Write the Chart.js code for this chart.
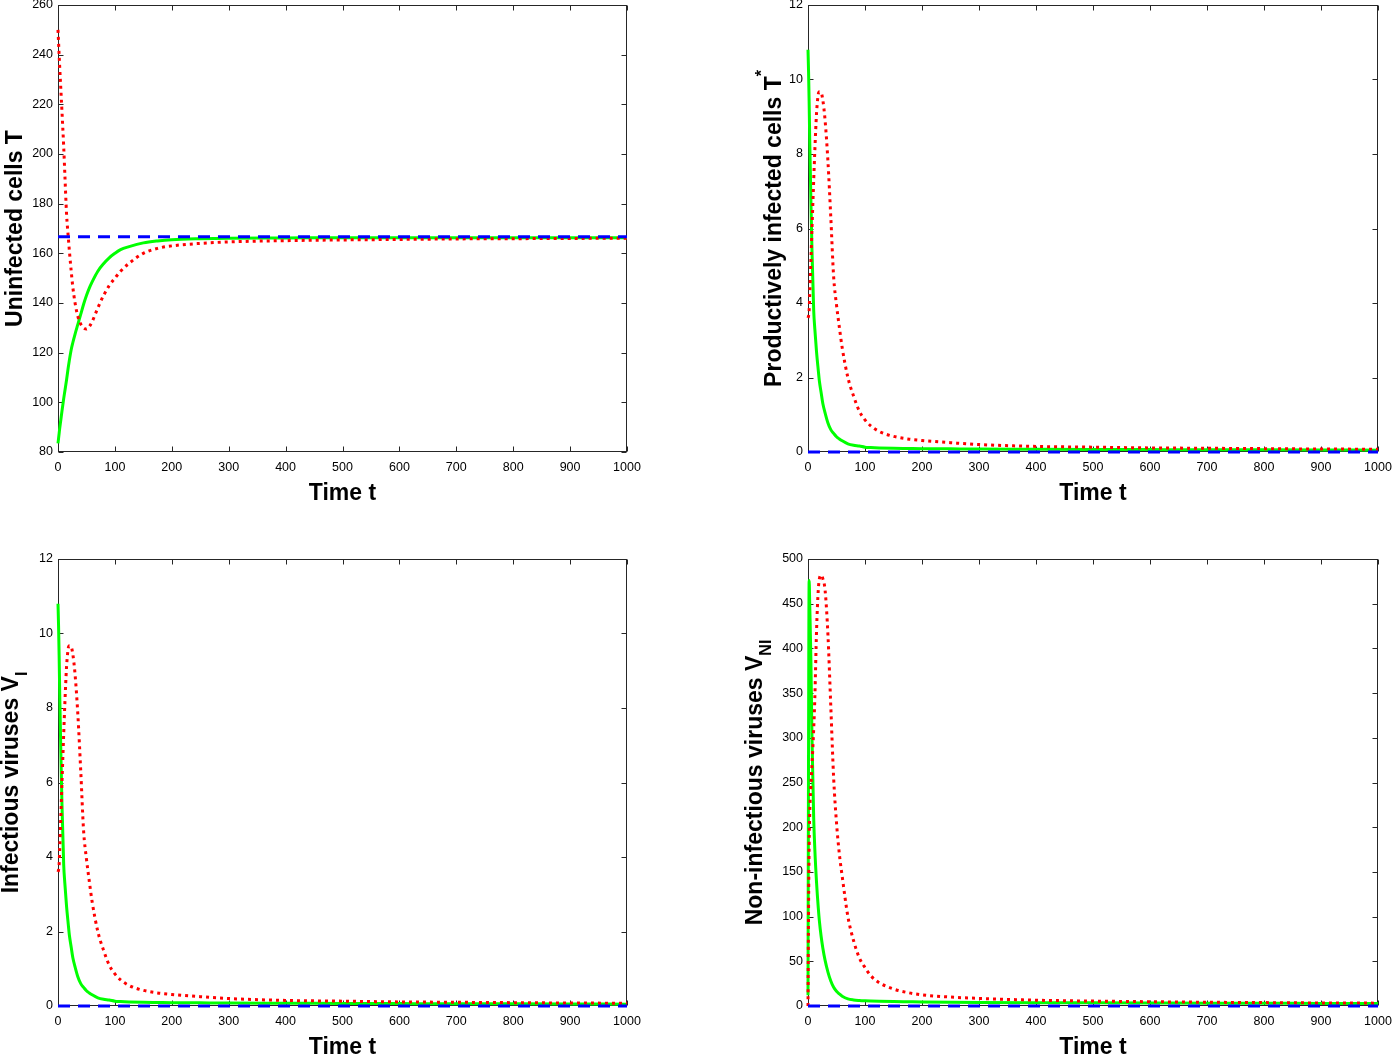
<!DOCTYPE html>
<html>
<head>
<meta charset="utf-8">
<script src="https://cdn.jsdelivr.net/npm/chart.js@4.4.1/dist/chart.umd.min.js"></script>
<style>
html,body{margin:0;padding:0;background:#fff;}
#wrap{position:relative;width:1392px;height:1054px;overflow:hidden;}
.panel{position:absolute;width:696px;height:527px;}
canvas{display:block;}
</style>
</head>
<body>
<div id="wrap">
  <div class="panel" style="left:0;top:0"><canvas id="cT" width="696" height="527"></canvas></div>
  <div class="panel" style="left:696px;top:0"><canvas id="cTs" width="696" height="527"></canvas></div>
  <div class="panel" style="left:0;top:527px"><canvas id="cVI" width="696" height="527"></canvas></div>
  <div class="panel" style="left:696px;top:527px"><canvas id="cVNI" width="696" height="527"></canvas></div>
</div>
<script>
// ---------------- data ----------------
const timePts = [0,1,2,3,5,7,10,12,15,18,20,23,26,30,35,40,45,50,55,60,70,80,90,100,110,125,150,175,200,250,300,400,500,600,700,800,900,1000];

// Uninfected cells T
const uninfGreen = [83.5,85.5,87.5,89.5,93,96.5,101.5,104.5,109,114,117,121,124,127.5,131.5,135.5,139.5,143,146,148.5,152.8,155.8,158.2,160,161.5,162.7,164.2,165,165.5,165.9,166.1,166.2,166.3,166.3,166.3,166.3,166.3,166.3];
const uninfRed   = [250,245,240,235,226,217,203,192,176,166.7,161,153.3,146.5,140,134.5,131.5,130,129.5,130.5,132.5,138,143,147,150,152.8,156,160,162,163,164,164.6,165.1,165.4,165.6,165.8,165.9,166,166.1];
const uninfEq    = [166.7,166.7];

// Productively infected cells T*
const infGreen = [10.8,10.2,9.4,8.4,6.8,5.4,3.8,3.3,2.68,2.2,1.9,1.6,1.3,1.05,0.78,0.6,0.5,0.41,0.35,0.3,0.22,0.18,0.16,0.13,0.12,0.11,0.1,0.095,0.09,0.085,0.08,0.075,0.07,0.065,0.06,0.058,0.055,0.05];
const infRed   = [3.6,3.65,3.8,4.2,5.1,6.0,7.3,8.1,9.1,9.6,9.67,9.65,9.45,8.9,7.8,6.3,4.7,3.95,3.35,2.8,2.0,1.5,1.1,0.86,0.7,0.55,0.42,0.35,0.31,0.25,0.2,0.15,0.13,0.11,0.1,0.09,0.08,0.075];
const infEq    = [0,0];

// Infectious viruses V_I
const viGreen = [10.8,10.2,9.4,8.4,6.8,5.4,3.8,3.3,2.68,2.2,1.9,1.6,1.3,1.05,0.78,0.6,0.5,0.41,0.35,0.3,0.22,0.18,0.16,0.13,0.12,0.11,0.1,0.095,0.09,0.085,0.08,0.075,0.07,0.065,0.06,0.058,0.055,0.05];
const viRed   = [3.6,3.65,3.8,4.2,5.1,6.0,7.3,8.1,9.1,9.6,9.67,9.65,9.45,8.9,7.8,6.3,4.7,3.95,3.35,2.8,2.0,1.5,1.1,0.86,0.7,0.55,0.42,0.35,0.31,0.25,0.2,0.15,0.13,0.11,0.1,0.09,0.08,0.075];
const viEq    = [0,0];

// Non-infectious viruses V_NI
const vniGreen = [12,300,476,450,390,300,210,175,138,110,95,78,65,51,38,28,21,16.5,13.5,11,8,6.8,6.2,5.8,5.5,5.2,4.9,4.7,4.5,4.2,4.0,3.7,3.5,3.3,3.1,3.0,2.9,2.8];
const vniRed   = [0,110,180,215,245,270,310,345,420,465,478,482,478,465,415,335,255,205,170,145,100,73,54,43,34,26,19,15,12.5,10,8.5,6.5,5.5,4.8,4.2,3.8,3.4,3.2];
const vniEq    = [0,0];

const eqTime = [0,1000];

// tick labels
const xTicks    = [0,100,200,300,400,500,600,700,800,900,1000];
const yTicksT   = [80,100,120,140,160,180,200,220,240,260];
const yTicksTs  = [0,2,4,6,8,10,12];
const yTicksVI  = [0,2,4,6,8,10,12];
const yTicksVNI = [0,50,100,150,200,250,300,350,400,450,500];

// ---------------- drawing ----------------
const FONT = "'Liberation Sans', Arial, Helvetica, sans-serif";
const AXIS_COLOR = '#262626';
const CW = 696, CH = 527;

const framePlugin = {
  id: 'frame',
  beforeDatasetsDraw(chart) {
    const ctx = chart.ctx, a = chart.chartArea;
    const xs = chart.scales.x, ys = chart.scales.y;
    const L = Math.round(a.left) + 0.5, R = Math.round(a.right) - 0.5;
    const T = Math.round(a.top) + 0.5, B = Math.round(a.bottom) - 0.5;
    ctx.save();
    ctx.strokeStyle = AXIS_COLOR;
    ctx.lineWidth = 1;
    ctx.strokeRect(L, T, R - L, B - T);
    ctx.beginPath();
    const tl = 5;
    xs.ticks.forEach(t => {
      const px = Math.round(xs.getPixelForValue(t.value)) + 0.5;
      ctx.moveTo(px, B); ctx.lineTo(px, B - tl);
      ctx.moveTo(px, T); ctx.lineTo(px, T + tl);
    });
    ys.ticks.forEach(t => {
      const py = Math.round(ys.getPixelForValue(t.value)) + 0.5;
      ctx.moveTo(L, py); ctx.lineTo(L + tl, py);
      ctx.moveTo(R, py); ctx.lineTo(R - tl, py);
    });
    ctx.stroke();
    ctx.restore();
  },
  afterDraw(chart) {
    const cfg = chart.$titleCfg;
    if (!cfg) return;
    const ctx = chart.ctx, a = chart.chartArea;
    ctx.save();
    ctx.fillStyle = '#000';
    ctx.font = 'bold 23px ' + FONT;
    ctx.textAlign = 'center';
    ctx.textBaseline = 'alphabetic';
    ctx.fillText('Time t', (a.left + a.right) / 2, a.bottom + 48);
    const segs = cfg.segs;
    const fontFor = s => (s.sub || s.sup) ? 'bold 16px ' + FONT : 'bold 23px ' + FONT;
    let total = 0;
    segs.forEach(s => { ctx.font = fontFor(s); s.w = ctx.measureText(s.t).width; total += s.w; });
    ctx.translate(a.left - cfg.dx, (a.top + a.bottom) / 2);
    ctx.rotate(-Math.PI / 2);
    ctx.textAlign = 'left';
    let x = -total / 2;
    segs.forEach(s => {
      ctx.font = fontFor(s);
      const dy = s.sub ? 9 : (s.sup ? -14 : 0);
      ctx.fillText(s.t, x, dy);
      x += s.w;
    });
    ctx.restore();
  }
};

function pts(xsArr, ysArr) { return xsArr.map((t, i) => ({ x: t, y: ysArr[i] })); }

function makeChart(id, green, red, eq, yMin, yMax, yTicks, plot, segs, dx) {
  const el = document.getElementById(id);
  const padBottom = CH - plot.B - 40;
  const chart = new Chart(el, {
    type: 'line',
    data: {
      datasets: [
        { data: pts(eqTime, eq), borderColor: '#0000ff', borderWidth: 3, borderDash: [12, 8], pointRadius: 0, fill: false, tension: 0, clip: false },
        { data: pts(timePts, red), borderColor: '#ff0000', borderWidth: 3, borderDash: [3, 4], borderCapStyle: 'butt', pointRadius: 0, fill: false, cubicInterpolationMode: 'monotone', clip: false },
        { data: pts(timePts, green), borderColor: '#00ff00', borderWidth: 3, pointRadius: 0, fill: false, cubicInterpolationMode: 'monotone', clip: false }
      ]
    },
    options: {
      responsive: false,
      animation: false,
      events: [],
      devicePixelRatio: 1,
      layout: { padding: { left: 0, top: plot.T, right: CW - plot.R, bottom: padBottom } },
      plugins: { legend: { display: false }, tooltip: { enabled: false } },
      scales: {
        x: {
          type: 'linear', min: 0, max: 1000,
          afterBuildTicks: s => { s.ticks = xTicks.map(v => ({ value: v })); },
          ticks: { font: { family: FONT, size: 12.5 }, color: '#000', padding: 8, maxRotation: 0, autoSkip: false, callback: v => String(v) },
          grid: { display: false, drawTicks: false, tickLength: 0 },
          border: { display: false },
          afterFit: s => { s.height = 40; s.paddingLeft = 0; s.paddingRight = 0; }
        },
        y: {
          type: 'linear', min: yMin, max: yMax,
          afterBuildTicks: s => { s.ticks = yTicks.map(v => ({ value: v })); },
          ticks: { font: { family: FONT, size: 12.5 }, color: '#000', padding: 5, autoSkip: false, callback: v => String(v) },
          grid: { display: false, drawTicks: false, tickLength: 0 },
          border: { display: false },
          afterFit: s => { s.width = plot.L; s.paddingTop = 0; s.paddingBottom = 0; }
        }
      }
    },
    plugins: [framePlugin]
  });
  chart.$titleCfg = { segs: segs, dx: dx };
  chart.draw();
  return chart;
}

makeChart('cT', uninfGreen, uninfRed, uninfEq, 80, 260, yTicksT,
  { L: 58, T: 5, R: 627, B: 452 },
  [{ t: 'Uninfected cells T' }], 36);

makeChart('cTs', infGreen, infRed, infEq, 0, 12, yTicksTs,
  { L: 112, T: 5, R: 682, B: 452 },
  [{ t: 'Productively infected cells T' }, { t: '*', sup: true }], 27);

makeChart('cVI', viGreen, viRed, viEq, 0, 12, yTicksVI,
  { L: 58, T: 32, R: 627, B: 479 },
  [{ t: 'Infectious viruses V' }, { t: 'I', sub: true }], 40);

makeChart('cVNI', vniGreen, vniRed, vniEq, 0, 500, yTicksVNI,
  { L: 112, T: 32, R: 682, B: 479 },
  [{ t: 'Non-infectious viruses V' }, { t: 'NI', sub: true }], 46);
</script>
</body>
</html>
